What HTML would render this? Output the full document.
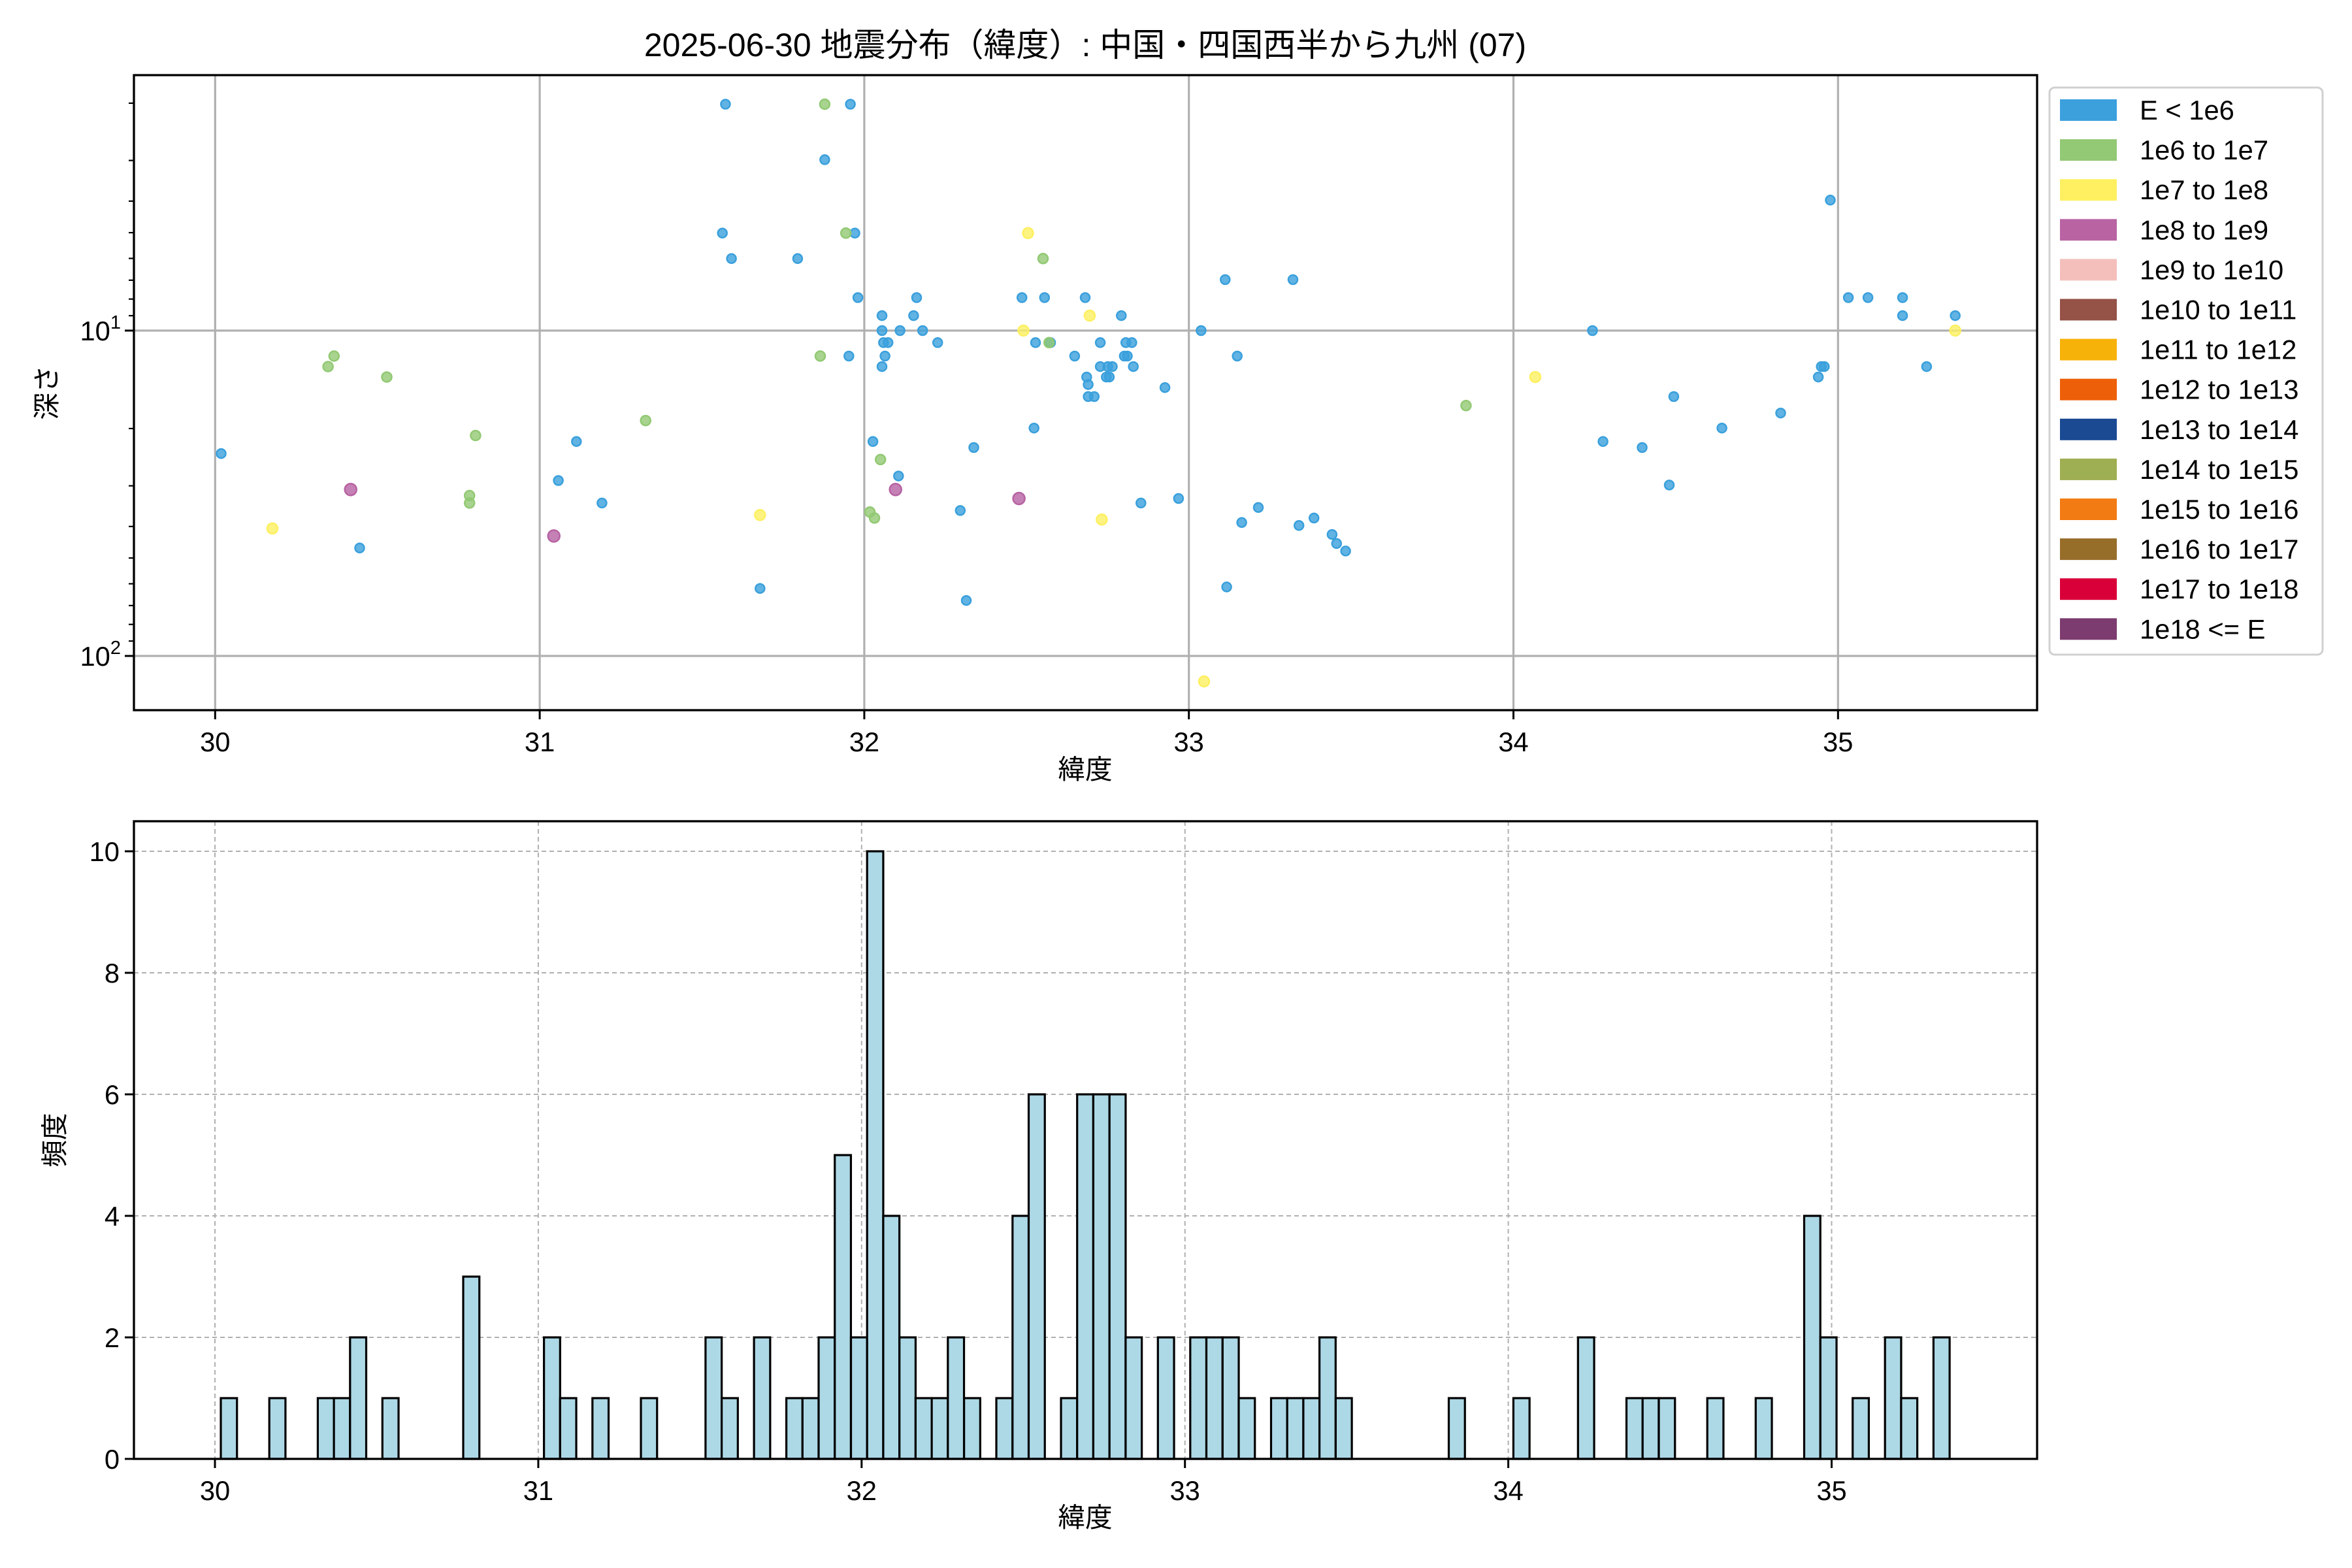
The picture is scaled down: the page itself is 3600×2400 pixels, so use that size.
<!DOCTYPE html>
<html><head><meta charset="utf-8"><style>
html,body{margin:0;padding:0;background:#fff;}
svg{display:block;font-family:"Liberation Sans","Noto Sans CJK JP",sans-serif;}
</style></head><body>
<svg id="s" width="3600" height="2400" xmlns="http://www.w3.org/2000/svg"></svg>
<script>
const s=document.getElementById('s');let h='';
// ---------- top axes ----------
const L=205,R=3118,T1=115,B1=1087;
const xT=lat=>329.3+(lat-30)*496.8;
const yD=d=>506+(Math.log10(d)-1)*498;
for(let k=30;k<=35;k++){const x=xT(k);h+=`<line x1="${x}" y1="${T1}" x2="${x}" y2="${B1}" stroke="#b0b0b0" stroke-width="3.2"/>`;}
[10,100].forEach(d=>{const y=yD(d);h+=`<line x1="${L}" y1="${y}" x2="${R}" y2="${y}" stroke="#b0b0b0" stroke-width="3.2"/>`;});
const P=(xd,yd)=>[329.3+(xd-143)*2.304,506+(yd-220)*2.295];
const pts={
b:[[147,302],[239,365],[371,320],[383,294],[400,335],[482,69],[480,155],[486,172],[505,392],[530,172],[548,106],[565,69],[568,155],[570,198],[564,237],[580,294],[586,210],[586,220],[587,228],[588,237],[586,244],[590,228],[597,317],[598,220],[607,210],[609,198],[613,220],[623,228],[638,340],[642,400],[647,298],[679,198],[687,285],[688,228],[694,198],[698,228],[714,237],[721,198],[722,251],[723,256],[723,264],[727,264],[731,228],[731,244],[735,251],[736,244],[737,251],[739,244],[745,210],[747,237],[748,228],[749,237],[752,228],[753,244],[758,335],[774,258],[783,332],[798,220],[814,186],[815,391],[822,237],[825,348],[836,338],[859,186],[863,350],[873,345],[885,356],[888,362],[894,367],[1058,220],[1065,294],[1091,298],[1109,323],[1112,264],[1144,285],[1183,275],[1208,251],[1210,244],[1212,244],[1216,133],[1228,198],[1241,198],[1264,198],[1264,210],[1280,244],[1299,210]],
g:[[218,244],[222,237],[257,251],[316,290],[312,330],[312,335],[429,280],[548,69],[562,155],[545,237],[585,306],[578,341],[581,345],[693,172],[697,228],[974,270]],
y:[[181,352],[505,343],[680,220],[683,155],[724,210],[732,346],[800,454],[1020,251],[1299,220]],
p:[[233,326],[368,357],[595,326],[677,332]]};
const col={b:'#3aa0dc',g:'#92c973',y:'#fdf061',p:'#b762a2'};
const rad={b:7,g:7.5,y:8,p:9};
for(const k in pts){pts[k].forEach(([a,b])=>{const [x,y]=P(a,b);h+=`<circle cx="${x.toFixed(1)}" cy="${y.toFixed(1)}" r="${rad[k]}" fill="${col[k]}" fill-opacity="0.8" stroke="${col[k]}" stroke-width="2.5"/>`;});}
h+=`<rect x="${L}" y="${T1}" width="${R-L}" height="${B1-T1}" fill="none" stroke="#000" stroke-width="3.3"/>`;
for(let k=30;k<=35;k++){const x=xT(k);h+=`<line x1="${x}" y1="${B1}" x2="${x}" y2="${B1+14}" stroke="#000" stroke-width="3"/><text x="${x}" y="${B1+63}" font-size="41.7" text-anchor="middle">${k}</text>`;}
[10,100].forEach((d,i)=>{const y=yD(d);h+=`<line x1="${L-14}" y1="${y}" x2="${L}" y2="${y}" stroke="#000" stroke-width="3"/><text x="${L-20}" y="${y+15}" font-size="41.7" text-anchor="end">10<tspan font-size="29" dy="-18">${i+1}</tspan></text>`;});
[2,3,4,5,6,7,8,9,20,30,40,50,60,70,80,90].forEach(d=>{const y=yD(d);if(y>T1&&y<B1)h+=`<line x1="${L-8}" y1="${y}" x2="${L}" y2="${y}" stroke="#000" stroke-width="2.2"/>`;});
h+=`<text x="1661" y="1192" font-size="41.7" text-anchor="middle">緯度</text>`;
h+=`<text transform="translate(86,601) rotate(-90)" font-size="41.7" text-anchor="middle">深さ</text>`;
h+=`<text x="1661" y="86" font-size="50" text-anchor="middle">2025-06-30 地震分布（緯度）: 中国・四国西半から九州 (07)</text>`;
const LG=[['E < 1e6','#3ca0dd'],['1e6 to 1e7','#93c975'],['1e7 to 1e8','#fef061'],['1e8 to 1e9','#b963a3'],['1e9 to 1e10','#f4bfbb'],['1e10 to 1e11','#955247'],['1e11 to 1e12','#f7b20a'],['1e12 to 1e13','#ee5f0a'],['1e13 to 1e14','#1b4a93'],['1e14 to 1e15','#9eae52'],['1e15 to 1e16','#f27b13'],['1e16 to 1e17','#976d2a'],['1e17 to 1e18','#d9003a'],['1e18 <= E','#7c3c6f']];
h+=`<rect x="3137" y="134" width="418" height="868" rx="8" fill="#fff" fill-opacity="0.8" stroke="#d0d0d0" stroke-width="3"/>`;
LG.forEach(([t,c],i)=>{const cy=168+i*61.1;h+=`<rect x="3153" y="${cy-16}" width="87" height="33" fill="${c}"/><text x="3275" y="${cy+15}" font-size="41.7">${t}</text>`;});
// ---------- bottom axes ----------
const T2=1257,B2=2233,U=93;
const xH=lat=>329+(lat-30)*494.9;
for(let k=30;k<=35;k++){const x=xH(k);h+=`<line x1="${x}" y1="${T2}" x2="${x}" y2="${B2}" stroke="#b0b0b0" stroke-width="2" stroke-dasharray="7,5"/>`;}
for(let v=0;v<=10;v+=2){const y=B2-v*U;h+=`<line x1="${L}" y1="${y}" x2="${R}" y2="${y}" stroke="#b0b0b0" stroke-width="2" stroke-dasharray="7,5"/>`;}
const bars={0:1,3:1,6:1,7:1,8:2,10:1,15:3,20:2,21:1,23:1,26:1,30:2,31:1,33:2,35:1,36:1,37:2,38:5,39:2,40:10,41:4,42:2,43:1,44:1,45:2,46:1,48:1,49:4,50:6,52:1,53:6,54:6,55:6,56:2,58:2,60:2,61:2,62:2,63:1,65:1,66:1,67:1,68:2,69:1,76:1,80:1,84:2,87:1,88:1,89:1,92:1,95:1,98:4,99:2,101:1,103:2,104:1,106:2};
for(const k in bars){const x=338+k*24.73,v=bars[k];h+=`<rect x="${x.toFixed(1)}" y="${B2-v*U}" width="24.73" height="${v*U}" fill="#add8e6" stroke="#000" stroke-width="3.2"/>`;}
h+=`<rect x="${L}" y="${T2}" width="${R-L}" height="${B2-T2}" fill="none" stroke="#000" stroke-width="3.3"/>`;
for(let k=30;k<=35;k++){const x=xH(k);h+=`<line x1="${x}" y1="${B2}" x2="${x}" y2="${B2+14}" stroke="#000" stroke-width="3"/><text x="${x}" y="${B2+63}" font-size="41.7" text-anchor="middle">${k}</text>`;}
for(let v=0;v<=10;v+=2){const y=B2-v*U;h+=`<line x1="${L-14}" y1="${y}" x2="${L}" y2="${y}" stroke="#000" stroke-width="3"/><text x="${L-22}" y="${y+15}" font-size="41.7" text-anchor="end">${v}</text>`;}
h+=`<text x="1661" y="2337" font-size="41.7" text-anchor="middle">緯度</text>`;
h+=`<text transform="translate(98,1745) rotate(-90)" font-size="41.7" text-anchor="middle">頻度</text>`;
s.innerHTML=h;
</script>
</body></html>
